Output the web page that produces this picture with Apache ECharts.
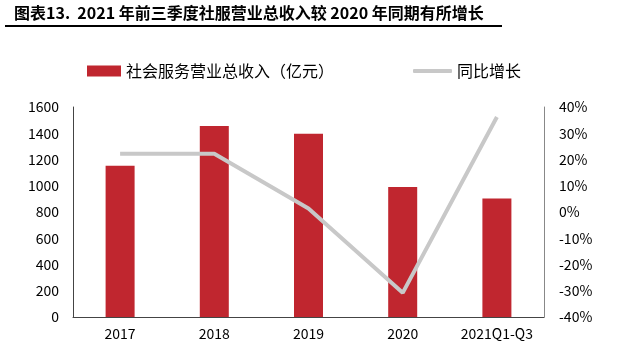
<!DOCTYPE html>
<html><head><meta charset="utf-8">
<script src="https://cdn.jsdelivr.net/npm/echarts@6/dist/echarts.min.js"></script>
<style>html,body{margin:0;padding:0;background:#fff}#c{width:641px;height:362px}</style>
</head><body><div id="c"></div>
<script>
const categories = ['2017','2018','2019','2020','2021Q1-Q3'];
const revenue = [1153, 1455, 1397, 990, 902];
const growth = [22.2, 22.2, 1.3, -30.8, 36.2];
const leftTicks = [0, 1600, 200];
const rightTicks = [-40, 40, 10];

const chart = echarts.init(document.getElementById('c'));
const font = '"Noto Sans CJK SC", "Noto Sans", sans-serif';
chart.setOption({
  animation: false,
  textStyle: {fontFamily: font},
  graphic: [
    {type:'text', left: 14, top: 5, style:{text:'图表13.  2021 年前三季度社服营业总收入较 2020 年同期有所增长', font:'bold 16px "Noto Sans CJK SC"', fill:'#000'}},
    {type:'line', shape:{x1:5, y1:26, x2:502, y2:26}, style:{stroke:'#000', lineWidth:2}}
  ],
  legend: [
    {top: 58, left: 82, itemWidth: 34, itemHeight: 11,
     textStyle: {fontSize: 16, color: '#000', fontFamily: font},
     data: [{name:'社会服务营业总收入（亿元）', icon:'rect'}]},
    {top: 58, left: 408, itemWidth: 39, itemHeight: 4, itemGap: 5,
     textStyle: {fontSize: 16, color: '#000', fontFamily: font},
     data: [{name:'同比增长', icon:'roundRect'}]}
  ],
  grid: {left: 73, right: 97, top: 107, bottom: 45},
  xAxis: {
    type:'category', data: categories,
    axisLine:{lineStyle:{color:'#444', width:1}},
    axisTick:{show:false},
    axisLabel:{fontSize:14, color:'#000', margin: 10}
  },
  yAxis: [
    {type:'value', min:leftTicks[0], max:leftTicks[1], interval:leftTicks[2],
     axisLine:{show:true, lineStyle:{color:'#444'}}, axisTick:{show:false}, splitLine:{show:false},
     axisLabel:{fontSize:14, color:'#000', margin: 14, formatter: v => String(v)}},
    {type:'value', min:rightTicks[0], max:rightTicks[1], interval:rightTicks[2], position:'right',
     axisLine:{show:true, lineStyle:{color:'#888'}}, axisTick:{show:false}, splitLine:{show:false},
     axisLabel:{fontSize:14, color:'#000', margin: 15, formatter: '{value}%'}}
  ],
  series: [
    {name:'社会服务营业总收入（亿元）', type:'bar', data: revenue, barWidth: 29, itemStyle:{color:'#c0262f'}},
    {name:'同比增长', type:'line', yAxisIndex:1, data: growth, symbol:'none',
     lineStyle:{color:'#c8c8c8', width:4}, itemStyle:{color:'#c8c8c8'}}
  ]
});
</script></body></html>
